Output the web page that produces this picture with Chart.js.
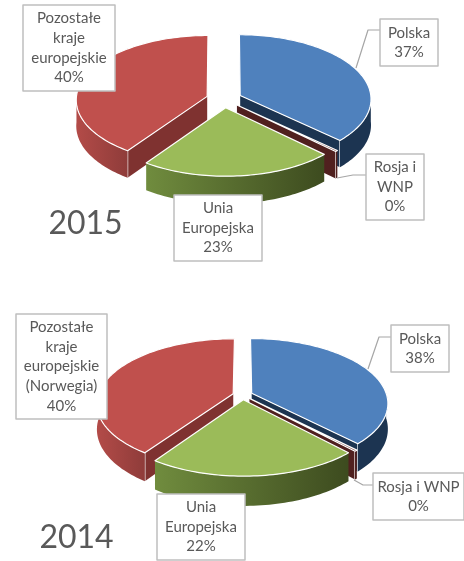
<!DOCTYPE html>
<html lang="pl">
<head>
    <meta charset="UTF-8">
    <title>Struktura sprzedaży 2015 / 2014</title>
    <script src="https://cdn.jsdelivr.net/npm/chart.js"></script>
    <style>
        html, body { margin: 0; padding: 0; background: #ffffff; overflow: hidden; }
        canvas { position: absolute; left: 0; }
        #wykres2015 { top: 0; }
        #wykres2014 { top: 281px; }
    </style>
</head>
<body>
    <canvas id="wykres2015" width="464" height="281"></canvas>
    <canvas id="wykres2014" width="464" height="280"></canvas>

    <script>
        const labels2015 = [["Polska"], ["Rosja i", "WNP"], ["Unia", "Europejska"], ["Pozostałe", "kraje", "europejskie"]];
        const values2015 = [37, 0.3, 22.7, 40.3];

        const labels2014 = [["Polska"], ["Rosja i WNP"], ["Unia", "Europejska"], ["Pozostałe", "kraje", "europejskie", "(Norwegia)"]];
        const values2014 = [37.7, 0.3, 21.6, 40.4];

        const topColors = ["#4f81bd", "#6b2a28", "#9bbb59", "#c0504d"];
        const faceColors = ["#1c3451", "#50201f", "#3f4f20", "#7f3230"];
        const wallColors = [["#1c3451", "#1c3451"], ["#50201f", "#50201f"], ["#708c3e", "#3d4b1f"], ["#b34b48", "#8f3c3a"]];

        // camera and label layout of each pie, y is local to its canvas
        const view2015 = {
            year: "2015", yearX: 85.5, yearY: 224,
            cx: 224, cy: 99, radius: 131, flat: 0.49, persp: 0.05, explode: 0.135, depth: 26,
            boxes: [
                { x: 380, y: 19, w: 58, h: 47 },
                { x: 366, y: 154, w: 58, h: 66 },
                { x: 174, y: 195, w: 88, h: 66 },
                { x: 23, y: 5, w: 92, h: 86 }
            ],
            leaders: [
                [[380, 30], [368, 30], [356, 68]],
                [[366, 175], [353, 175], [337, 178]]
            ]
        };
        const view2014 = {
            year: "2014", yearX: 76.5, yearY: 257,
            cx: 242.6, cy: 114, radius: 135, flat: 0.47, persp: 0.15, explode: 0.073, depth: 25,
            boxes: [
                { x: 391, y: 44, w: 58, h: 47 },
                { x: 373, y: 192, w: 91, h: 47 },
                { x: 157, y: 213, w: 88, h: 66 },
                { x: 16, y: 33, w: 91, h: 105 }
            ],
            leaders: [
                [[391, 56], [379, 56], [368, 88]],
                [[373, 204], [363, 204], [354, 199]]
            ]
        };

        const pie3d = {
            id: "pie3d",
            beforeDatasetsDraw(chart, args, opts) {
                const v = opts.view;
                const ctx = chart.ctx;
                const arcs = chart.getDatasetMeta(0).data;

                const project = (X, Y, z) => {
                    const w = 1 - v.persp * Y;
                    return [v.cx + v.radius * X / w, v.cy + v.radius * v.flat * Y / w + (z ? v.depth / w : 0)];
                };
                const slicePoints = (arc) => {
                    const a0 = arc.startAngle, a1 = arc.endAngle, mid = (a0 + a1) / 2;
                    return { a0, a1, ox: Math.cos(mid) * v.explode, oy: Math.sin(mid) * v.explode };
                };
                const trace = (pts) => {
                    ctx.beginPath();
                    pts.forEach((p, i) => i ? ctx.lineTo(p[0], p[1]) : ctx.moveTo(p[0], p[1]));
                    ctx.closePath();
                };
                const rim = (s, from, to, z) => {
                    const pts = [];
                    const n = Math.max(2, Math.ceil(Math.abs(to - from) * 40));
                    for (let i = 0; i <= n; i++) {
                        const a = from + (to - from) * i / n;
                        pts.push(project(s.ox + Math.cos(a), s.oy + Math.sin(a), z));
                    }
                    return pts;
                };

                // painter's order: back slice first, front slice last
                [3, 0, 1, 2].forEach((i) => {
                    const arc = arcs[i];
                    const s = slicePoints(arc);
                    const apex = project(s.ox, s.oy, false);
                    const apexLow = project(s.ox, s.oy, true);

                    const face = (a) => {
                        const p = project(s.ox + Math.cos(a), s.oy + Math.sin(a), false);
                        const q = project(s.ox + Math.cos(a), s.oy + Math.sin(a), true);
                        trace([apex, p, q, apexLow]);
                        ctx.fillStyle = faceColors[i];
                        ctx.fill();
                        ctx.beginPath();
                        ctx.moveTo(p[0], p[1]);
                        ctx.lineTo(q[0], q[1]);
                        ctx.strokeStyle = "#ffffff";
                        ctx.lineWidth = 1.2;
                        ctx.stroke();
                    };
                    if (Math.cos(s.a0) < -0.01) face(s.a0);
                    if (Math.cos(s.a1) > 0.01) face(s.a1);

                    const from = Math.max(s.a0, 0), to = Math.min(s.a1, Math.PI);
                    if (to > from) {
                        const up = rim(s, from, to, false);
                        const down = rim(s, to, from, true);
                        const xs = up.map(p => p[0]);
                        const grad = ctx.createLinearGradient(Math.min(...xs), 0, Math.max(...xs), 0);
                        grad.addColorStop(0, wallColors[i][0]);
                        grad.addColorStop(1, wallColors[i][1]);
                        trace(up.concat(down));
                        ctx.fillStyle = grad;
                        ctx.fill();
                    }

                    trace([apex].concat(rim(s, s.a0, s.a1, false)));
                    ctx.fillStyle = arc.options.backgroundColor;
                    ctx.fill();
                    ctx.strokeStyle = "#ffffff";
                    ctx.lineWidth = 1.2;
                    ctx.lineJoin = "round";
                    ctx.stroke();
                });
                return false;
            },
            afterDraw(chart, args, opts) {
                const v = opts.view;
                const ctx = chart.ctx;
                const labels = chart.data.labels;
                const data = chart.data.datasets[0].data;

                ctx.save();
                ctx.fillStyle = "#595959";
                ctx.font = '32px Lato, "Open Sans", sans-serif';
                ctx.textAlign = "center";
                ctx.textBaseline = "middle";
                ctx.fillText(v.year, v.yearX, v.yearY);

                ctx.strokeStyle = "#a6a6a6";
                ctx.lineWidth = 1.2;
                v.leaders.forEach((line) => {
                    ctx.beginPath();
                    line.forEach((p, i) => i ? ctx.lineTo(p[0], p[1]) : ctx.moveTo(p[0], p[1]));
                    ctx.stroke();
                });

                ctx.font = '15px Lato, "Open Sans", sans-serif';
                v.boxes.forEach((b, i) => {
                    ctx.fillStyle = "#ffffff";
                    ctx.fillRect(b.x, b.y, b.w, b.h);
                    ctx.strokeStyle = "#bfbfbf";
                    ctx.lineWidth = 1.5;
                    ctx.strokeRect(b.x, b.y, b.w, b.h);

                    const lines = labels[i].concat(Math.round(data[i]) + "%");
                    const lineH = 19.6;
                    const top = b.y + b.h / 2 - (lines.length - 1) * lineH / 2;
                    ctx.fillStyle = "#595959";
                    lines.forEach((t, j) => ctx.fillText(t, b.x + b.w / 2, top + j * lineH));
                });
                ctx.restore();
            }
        };

        function makePie(id, labels, values, view) {
            return new Chart(document.getElementById(id), {
                type: "pie",
                data: {
                    labels: labels,
                    datasets: [{ data: values, backgroundColor: topColors, borderColor: "#ffffff" }]
                },
                options: {
                    responsive: false,
                    animation: false,
                    events: [],
                    plugins: {
                        legend: { display: false },
                        tooltip: { enabled: false },
                        pie3d: { view: view }
                    }
                },
                plugins: [pie3d]
            });
        }

        makePie("wykres2015", labels2015, values2015, view2015);
        makePie("wykres2014", labels2014, values2014, view2014);
    </script>
</body>
</html>
